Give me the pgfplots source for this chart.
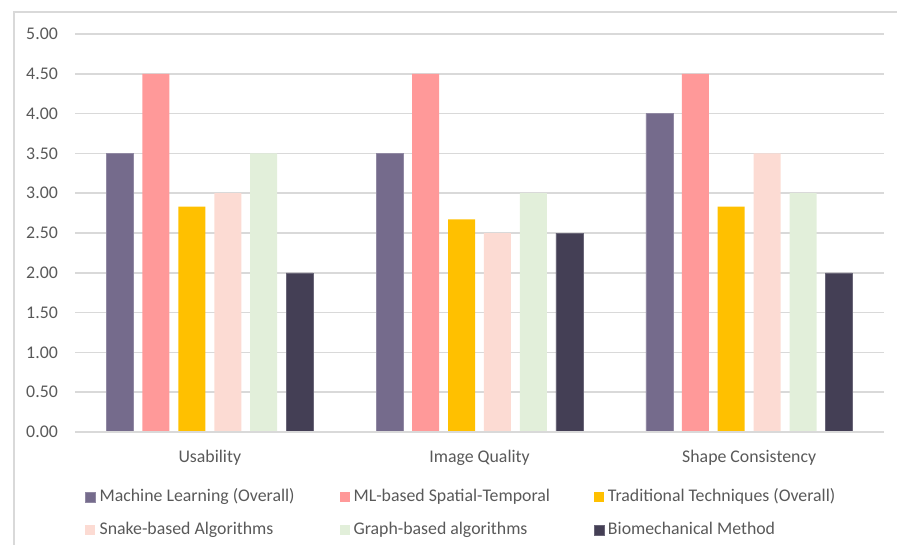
\documentclass[border=0pt]{standalone}
\usepackage{fontspec}
\setmainfont{Carlito}
\usepackage{pgfplots}
\pgfplotsset{compat=1.18}
\definecolor{cmlo}{HTML}{756B8C}
\definecolor{cmls}{HTML}{FF9999}
\definecolor{ctrad}{HTML}{FFC000}
\definecolor{csnake}{HTML}{FCDBD3}
\definecolor{cgraph}{HTML}{E2EFDA}
\definecolor{cbio}{HTML}{443F55}
\definecolor{cgrid}{HTML}{D9D9D9}
\definecolor{ctext}{HTML}{595959}
\newcommand{\cf}{\fontsize{17.8}{21}\selectfont}
\newcommand{\lb}[1]{\makebox[240pt][l]{#1}}
\begin{document}
\begin{tikzpicture}
\useasboundingbox (0,0) rectangle (897pt,544pt);
\draw[cgrid, line width=1.2pt] (14pt,-10pt) -- (14pt,532pt) -- (910pt,532pt);
\begin{axis}[
  at={(75pt,112pt)}, anchor=south west,
  scale only axis, width=809pt, height=398pt,
  xmin=-0.5, xmax=2.5, ymin=0, ymax=5,
  axis line style={draw=none},
  ybar=8.9pt, bar width=27pt,
  xtick={0,1,2},
  xticklabels={Usability, Image Quality, Shape Consistency},
  ytick={0,0.5,...,5},
  major tick length=0pt,
  ymajorgrids, grid style={cgrid, line width=1.5pt},
  /pgf/number format/assume math mode=true,
  yticklabel={\pgfmathprintnumber[fixed,fixed zerofill,precision=2]{\tick}},
  yticklabel style={font=\cf, text=ctext, anchor=east, inner sep=0pt, xshift=-17pt},
  xticklabel style={font=\cf, text=ctext, anchor=north, inner sep=0pt, yshift=-18pt},
  legend columns=3,
  legend image code/.code={\fill[#1] (0pt,-5pt) rectangle (10pt,5pt); \path (14pt,0pt);},
  legend style={draw=none, fill=none, font=\cf, text=ctext,
    at={(0,-0.138)}, anchor=north west, xshift=7pt,
    /tikz/column sep=0pt, /tikz/row sep=17pt,
    nodes={inner sep=0pt, text height=12pt, text depth=4pt}},
  legend cell align=left,
]
\addplot[fill=cmlo, draw=cmlo!80!white] coordinates {(0,3.5) (1,3.5) (2,4.0)};
\addplot[fill=cmls, draw=none] coordinates {(0,4.5) (1,4.5) (2,4.5)};
\addplot[fill=ctrad, draw=none] coordinates {(0,2.83) (1,2.67) (2,2.83)};
\addplot[fill=csnake, draw=none] coordinates {(0,3.0) (1,2.5) (2,3.5)};
\addplot[fill=cgraph, draw=none] coordinates {(0,3.5) (1,3.0) (2,3.0)};
\addplot[fill=cbio, draw=cbio!80!white] coordinates {(0,2.0) (1,2.5) (2,2.0)};
\draw[cgrid, line width=1.5pt] (axis cs:-0.5,0) -- (axis cs:2.5,0);
\legend{\lb{Machine Learning (Overall)}, \lb{ML-based Spatial-Temporal}, \lb{Traditional Techniques (Overall)}, \lb{Snake-based Algorithms}, \lb{Graph-based algorithms}, \lb{Biomechanical Method}}
\end{axis}
\end{tikzpicture}
\end{document}
